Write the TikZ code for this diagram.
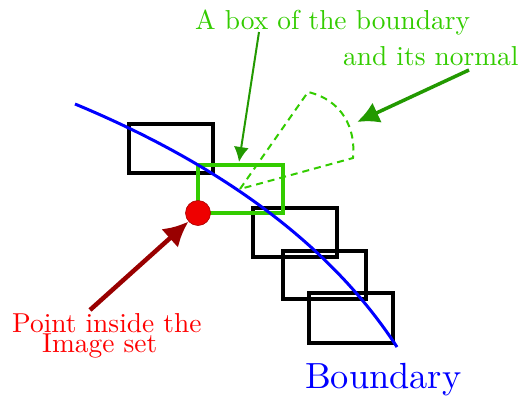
\documentclass[tikz,border=0pt]{standalone}
\usetikzlibrary{arrows.meta}
\definecolor{lgreen}{RGB}{51,204,0}
\definecolor{dgreen}{RGB}{34,153,0}
\definecolor{bred}{RGB}{238,0,0}
\definecolor{dred}{RGB}{153,0,0}
\tikzset{
  blackbox/.style={draw=black,line width=4bp},
  greenbox/.style={draw=lgreen,line width=4.6bp},
  lbl/.style={inner sep=0pt,anchor=base west,font=\fontsize{10pt}{12pt}\selectfont},
  pointer/.style={-{Latex[length=#1,width=#1]}},
}
\newcommand{\bigtxt}[1]{\scalebox{2.75}{#1}}
\begin{document}
\begin{tikzpicture}[x=1bp,y=-1bp]
\path[use as bounding box] (0,0) rectangle (522,396);
% black boxes
\draw[blackbox] (129,124) rectangle (213,173);
\draw[blackbox] (253,208) rectangle (337,257);
\draw[blackbox] (283,251) rectangle (366,299);
\draw[blackbox] (309,293) rectangle (393,343);
% green box
\draw[greenbox] (198,165) rectangle (283,213);
% normal wedge
\coordinate (apex) at (240,189);
\draw[lgreen,line width=2bp,dash pattern=on 7bp off 5bp]
  (apex) -- (308,92) .. controls (342,100) and (356,128) .. (353,158) -- cycle;
% boundary curve
\draw[blue,line width=3bp] (75,104) .. controls (224,166) and (332,247) .. (397,347);
% point
\node[circle,fill=bred,draw=dred!80!bred,line width=0.6bp,minimum size=25bp,inner sep=0pt] (pt) at (198,213) {};
% labels
\node[lbl,text=lgreen] (t1) at (195,29) {\bigtxt{A box of the boundary}};
\node[lbl,text=lgreen] (t2) at (343,65) {\bigtxt{and its normal}};
\node[lbl,text=red] (t3) at (12,332) {\bigtxt{Point inside the}};
\node[lbl,text=red] (t4) at (42,352) {\bigtxt{Image set}};
\node[lbl,text=blue] (t5) at (305,388) {\scalebox{3.65}{Boundary}};
% arrows
\coordinate (a1s) at (259,32);
\coordinate (a1e) at (239,162);
\coordinate (a2s) at (469,70);
\coordinate (a2e) at (357,122);
\coordinate (a3s) at (90,310);
\draw[dgreen,line width=2bp,pointer=15bp] (a1s) -- (a1e);
\draw[dgreen,line width=3.5bp,pointer=22bp] (a2s) -- (a2e);
\draw[dred,line width=4.5bp,pointer=25bp] (a3s) -- (pt);
\end{tikzpicture}
\end{document}
